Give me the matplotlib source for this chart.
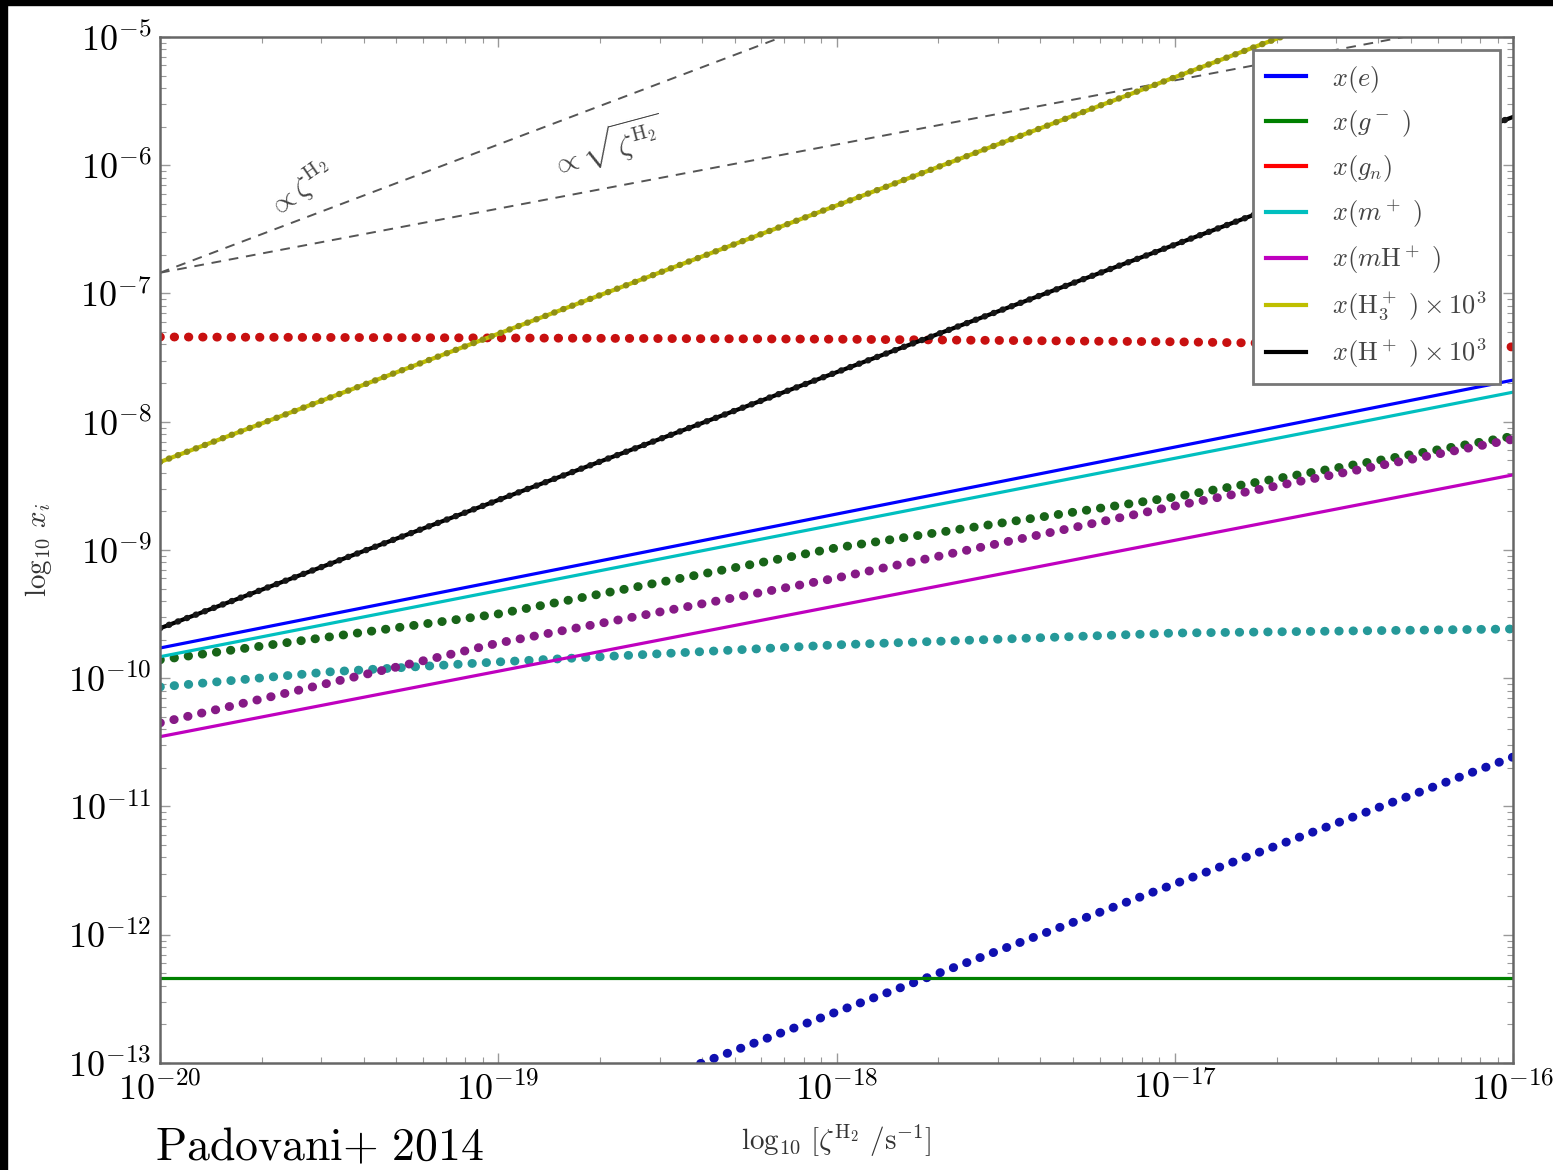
import matplotlib
matplotlib.use("Agg")
import matplotlib.pyplot as plt
from matplotlib.lines import Line2D
from matplotlib.patches import Rectangle

plt.rcParams["mathtext.fontset"] = "cm"
plt.rcParams["font.family"] = "serif"
plt.rcParams["font.serif"] = ["DejaVu Serif"]

# ---- data -----------------------------------------------------------------
# ionisation rate grid (s^-1)
zeta = [1e-20, 1e-19, 1e-18, 1e-17, 1e-16]
zeta_ends = [1e-20, 1e-16]

# solid curves (model A)
x_e_solid = [1.72e-10, 2.11e-8]
x_mplus_solid = [1.47e-10, 1.70e-8]
x_mHplus_solid = [3.5e-11, 3.85e-9]
x_gminus_solid = [4.6e-13, 4.6e-13]
x_H3plus = [4.85e-9, 4.85e-8, 4.85e-7, 4.85e-6, 4.85e-5]
x_Hplus = [2.45e-10, 2.45e-9, 2.43e-8, 2.4e-7, 2.38e-6]

# dotted curves (model B)
x_e_dot = [2.5e-14, 2.5e-14, 2.5e-13, 2.49e-12, 2.43e-11]
zeta_e_dot = [1e-20, 1e-19, 1e-18, 1e-17, 1e-16]
x_gminus_dot = [1.39e-10, 3.17e-10, 1.04e-9, 2.59e-9, 7.7e-9]
x_gn_dot = [4.58e-8, 4.5e-8, 4.4e-8, 4.2e-8, 3.83e-8]
zeta_m_dot = [1e-20, 3.16e-20, 1e-19, 1e-18, 1e-17, 1e-16]
x_mplus_dot = [8.55e-11, 1.12e-10, 1.34e-10, 1.82e-10, 2.25e-10, 2.42e-10]
x_mHplus_dot = [4.48e-11, 1.88e-10, 6.05e-10, 2.2e-9, 7.3e-9]

# reference power laws
guide_lin = [1.45e-7, 1.45e-3]
guide_sqrt = [1.45e-7, 1.45e-5]

legend_labels = [r"$x(e)$", r"$x(g^-\ )$", r"$x(g_n)$", r"$x(m^+\ )$",
                 r"$x(m\mathrm{H}^+\ )$", r"$x(\mathrm{H}_3^+\ )\times 10^3$",
                 r"$x(\mathrm{H}^+\ )\times 10^3$"]
legend_colors = ["#0000ff", "#008000", "#ff0000", "#00bfbf", "#bf00bf",
                 "#bfbf00", "#000000"]

xticks = [1e-20, 1e-19, 1e-18, 1e-17, 1e-16]
xticklabels = [r"$10^{-20}$", r"$10^{-19}$", r"$10^{-18}$", r"$10^{-17}$", r"$10^{-16}$"]
yticks = [1e-13, 1e-12, 1e-11, 1e-10, 1e-9, 1e-8, 1e-7, 1e-6, 1e-5]
yticklabels = [r"$10^{-13}$", r"$10^{-12}$", r"$10^{-11}$", r"$10^{-10}$", r"$10^{-9}$",
               r"$10^{-8}$", r"$10^{-7}$", r"$10^{-6}$", r"$10^{-5}$"]

# ---- figure ---------------------------------------------------------------
fig = plt.figure(figsize=(15.53, 11.70), dpi=100)
fig.patch.set_facecolor("white")
ax = fig.add_axes([0.1030, 0.0915, 0.8713, 0.8769])
ax.set_xscale("log")
ax.set_yscale("log")

dot_style = dict(linestyle=(0, (0.05, 1.55)), dash_capstyle="round", lw=6.4)
small_dot = dict(linestyle=(0, (0.05, 1.45)), dash_capstyle="round", lw=4.6)

# guides
ax.plot(zeta_ends, guide_lin, color="#555555", lw=1.4, dashes=(5, 4))
ax.plot(zeta_ends, guide_sqrt, color="#555555", lw=1.4, dashes=(5, 4))
ax.text(2.6e-20, 6.5e-7, r"$\propto\zeta^{\mathrm{H}_2}$", fontsize=21,
        rotation=35, color="#444444", ha="center", va="center")
ax.text(2.1e-19, 1.4e-6, r"$\propto\sqrt{\zeta^{\mathrm{H}_2}}$", fontsize=21,
        rotation=15, color="#444444", ha="center", va="center")

# dotted model
ax.plot(zeta, x_gn_dot, color="#c81010", **dot_style)
ax.plot(zeta_m_dot, x_mplus_dot, color="#259999", **dot_style)
ax.plot(zeta, x_gminus_dot, color="#186418", **dot_style)
ax.plot(zeta, x_mHplus_dot, color="#861a86", **dot_style)
ax.plot(zeta_e_dot, x_e_dot, color="#1010b0", **dot_style)

# solid model
ax.plot(zeta_ends, x_e_solid, color=legend_colors[0], lw=2.3)
ax.plot(zeta_ends, x_mplus_solid, color=legend_colors[3], lw=2.3)
ax.plot(zeta_ends, x_mHplus_solid, color=legend_colors[4], lw=2.3)
ax.plot(zeta_ends, x_gminus_solid, color=legend_colors[1], lw=2.3)
ax.plot(zeta, x_H3plus, color=legend_colors[5], lw=3.0)
ax.plot(zeta, x_H3plus, color="#8f8f14", **small_dot)
ax.plot(zeta, x_Hplus, color=legend_colors[6], lw=3.0)
ax.plot(zeta, x_Hplus, color="#181818", **small_dot)

ax.set_xlim(1e-20, 1e-16)
ax.set_ylim(1e-13, 1e-5)
ax.set_xticks(xticks)
ax.set_xticklabels(xticklabels, fontsize=26)
ax.set_yticks(yticks)
ax.set_yticklabels(yticklabels, fontsize=26)
ax.tick_params(which="both", direction="in", colors="#999999", labelcolor="black",
               top=True, right=True)
ax.tick_params(which="major", length=7, width=1, pad=6)
ax.tick_params(which="minor", length=4, width=0.8)
for s in ax.spines.values():
    s.set_color("#666666")
    s.set_linewidth(1.8)

ax.set_xlabel(r"$\mathrm{log}_{10}\ [\zeta^{\mathrm{H}_2}\ /\mathrm{s}^{-1}]$", fontsize=21,
              color="#333333", labelpad=12)
ax.set_ylabel(r"$\mathrm{log}_{10}\ x_i$", fontsize=21, color="#333333", labelpad=10)

handles = [Line2D([], [], color=c, lw=3) for c in legend_colors]
leg = ax.legend(handles, legend_labels, loc="upper right", bbox_to_anchor=(0.990, 0.987),
                borderaxespad=0, fontsize=19, labelspacing=0.52, handlelength=1.5,
                handletextpad=1.0, fancybox=False, framealpha=1, borderpad=0.5)
leg.get_frame().set_edgecolor("#777777")
leg.get_frame().set_linewidth(2)
for t in leg.get_texts():
    t.set_color("#444444")

fig.text(155 / 1553, 1 - 1160 / 1170, r"$\mathrm{Padovani{+}\ 2014}$", fontsize=33,
         ha="left", va="baseline")

# black edge strips of the frame
fig.patches.append(Rectangle((0, 1 - 5 / 1170), 1, 5 / 1170, transform=fig.transFigure,
                             color="black", zorder=10))
fig.patches.append(Rectangle((0, 0), 7 / 1553, 1, transform=fig.transFigure,
                             color="black", zorder=10))

fig.savefig("out.png", dpi=100)
